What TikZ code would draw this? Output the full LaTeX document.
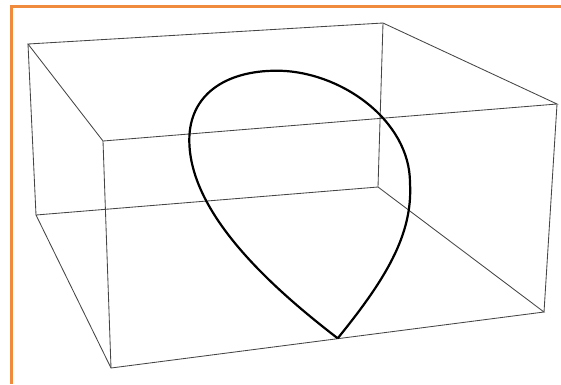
\documentclass[tikz,border=0pt]{standalone}
\usepackage{tikz}
\usetikzlibrary{calc}
\definecolor{frameOrange}{HTML}{F08A3C}
\definecolor{edgeGray}{HTML}{454545}
\tikzset{
  frameLine/.style={frameOrange, line width=2.4pt},
  boxEdge/.style={edgeGray, line width=0.85pt},
  loopCurve/.style={black, line width=2.2pt, line join=round},
}
\begin{document}
\begin{tikzpicture}[x=1pt, y=-1pt]
    \useasboundingbox (0,0) rectangle (561,384);
    % frame, only top and left show
    \coordinate (fTL) at (11.5,6.5);
    \coordinate (fTR) at (561,6.5);
    \coordinate (fBL) at (11.5,384);
    \draw[frameLine] (fTR) -- (fTL) -- (fBL);
    % box corners
    \coordinate (tbl) at (28,44);
    \coordinate (tbr) at (383,23);
    \coordinate (tfr) at (557,104);
    \coordinate (tfl) at (103,141);
    \coordinate (bbl) at (36,215);
    \coordinate (bbr) at (378,187);
    \coordinate (bfr) at (544,312);
    \coordinate (bfl) at (111,368);
    \draw[boxEdge] (tbl) -- (tbr) -- (tfr) -- (tfl) -- cycle;
    \draw[boxEdge] (bbl) -- (bbr) -- (bfr) -- (bfl) -- cycle;
    \draw[boxEdge] (tbl) -- (bbl);
    \draw[boxEdge] (tbr) -- (bbr);
    \draw[boxEdge] (tfr) -- (bfr);
    \draw[boxEdge] (tfl) -- (bfl);
    % teardrop curve
    \coordinate (tip) at (337.7,338.3);
    \coordinate (rgt) at (410,183);
    \coordinate (top) at (276.7,70.7);
    \coordinate (lft) at (189.3,140);
    \draw[loopCurve] (tip) .. controls (385,280) and (413,235) .. (rgt)
      .. controls (410,120) and (340,70.7) .. (top)
      .. controls (225,70.7) and (189.3,95) .. (lft)
      .. controls (189.3,215) and (275,290) .. (tip);
\end{tikzpicture}
\end{document}
